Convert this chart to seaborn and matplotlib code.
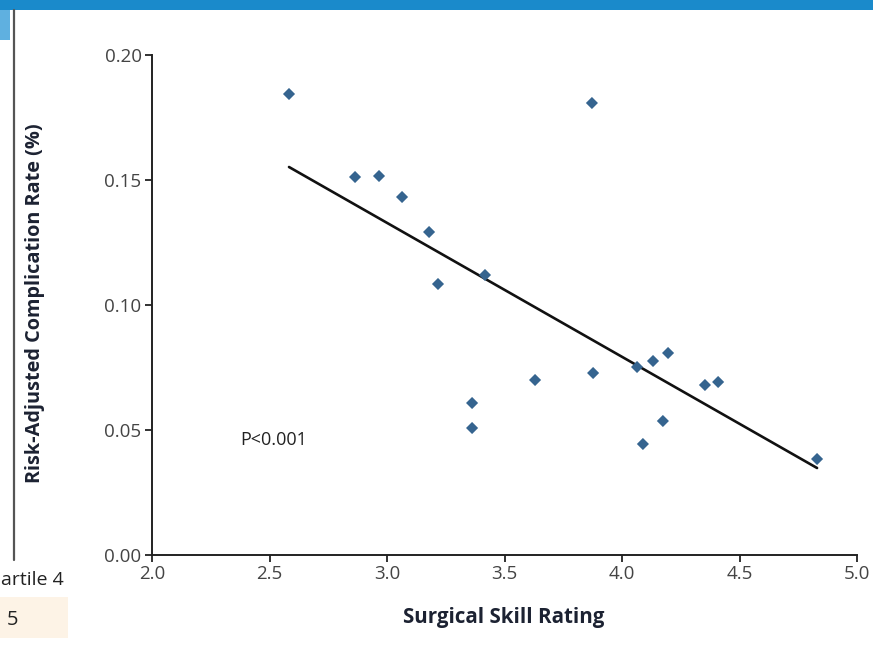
import matplotlib
matplotlib.use("Agg")
import matplotlib.pyplot as plt
import seaborn as sns
import pandas as pd
from matplotlib.patches import Rectangle
from matplotlib.lines import Line2D

# ---- data ----
skill = [2.583, 2.864, 2.966, 3.064, 3.179, 3.217, 3.417, 3.872, 3.362, 3.362,
         3.630, 3.877, 4.064, 4.132, 4.196, 4.353, 4.409, 4.174, 4.089, 4.830]
rate = [0.1844, 0.1512, 0.1516, 0.1432, 0.1292, 0.1084, 0.1120, 0.1808, 0.0608, 0.0508,
        0.0700, 0.0728, 0.0752, 0.0776, 0.0808, 0.0680, 0.0692, 0.0536, 0.0444, 0.0384]
fit_x = [2.583, 4.830]
fit_y = [0.1552, 0.0348]
x_ticks = [2.0, 2.5, 3.0, 3.5, 4.0, 4.5, 5.0]
y_ticks = [0.00, 0.05, 0.10, 0.15, 0.20]
x_label = "Surgical Skill Rating"
y_label = "Risk-Adjusted Complication Rate (%)"
p_text = "P<0.001"

sns.set_theme(style="white")
plt.rcParams['font.family'] = ['Open Sans', 'DejaVu Sans']

W, H = 873, 652
fig = plt.figure(figsize=(W / 100, H / 100), dpi=100)
ax = fig.add_axes([152 / W, 1 - 555 / H, (857 - 152) / W, (555 - 55) / H])

df = pd.DataFrame({"skill": skill, "rate": rate})
fit = pd.DataFrame({"x": fit_x, "y": fit_y})

sns.lineplot(data=fit, x="x", y="y", ax=ax, color="#111111", linewidth=1.9, zorder=2)
sns.scatterplot(data=df, x="skill", y="rate", ax=ax, marker="D", s=38,
                color="#35648f", edgecolor="none", zorder=3, clip_on=False)

ax.set_xlim(2.0, 5.0)
ax.set_ylim(0.0, 0.2)
ax.set_xticks(x_ticks)
ax.set_yticks(y_ticks)
ax.set_xticklabels([f"{v:.1f}" for v in x_ticks])
ax.set_yticklabels([f"{v:.2f}" for v in y_ticks])
for s in ["top", "right"]:
    ax.spines[s].set_visible(False)
for s in ["left", "bottom"]:
    ax.spines[s].set_color("#222222")
    ax.spines[s].set_linewidth(1.4)
ax.tick_params(axis="both", direction="out", length=5, width=1.3, color="#222222",
               labelsize=13.5, labelcolor="#444444", pad=2.5, left=True, bottom=True)
ax.set_xlabel("")
ax.set_ylabel("")
fig.text(504 / W, 1 - 617 / H, x_label, ha="center", va="center",
         fontsize=14.8, fontweight="bold", color="#1c2232")
fig.text(35 / W, 1 - 303 / H, y_label, ha="center", va="center", rotation=90,
         fontsize=14.3, fontweight="bold", color="#1c2232")
ax.text(2.374, 0.046, p_text, ha="left", va="center", fontsize=13, color="#222222")

# ---- screenshot surroundings ----
fig.patches.append(Rectangle((0, 1 - 10 / H), 1, 10 / H, transform=fig.transFigure,
                             facecolor="#1a8acb", edgecolor="none", zorder=0))
fig.patches.append(Rectangle((0, 1 - 40 / H), 10 / W, 30 / H, transform=fig.transFigure,
                             facecolor="#5fb0e0", edgecolor="none", zorder=0))
fig.lines.append(Line2D([14 / W, 14 / W], [1 - 10 / H, 1 - 560 / H], transform=fig.transFigure,
                        color="#555555", linewidth=1.6))
fig.patches.append(Rectangle((0, 1 - 638 / H), 68 / W, 41 / H, transform=fig.transFigure,
                             facecolor="#fdf3e6", edgecolor="none", zorder=0))
fig.text(1 / W, 1 - 580 / H, "artile 4", ha="left", va="center", fontsize=14, color="#222222")
fig.text(13 / W, 1 - 620 / H, "5", ha="center", va="center", fontsize=14.5, color="#222222")

fig.savefig("out.png", dpi=100)
